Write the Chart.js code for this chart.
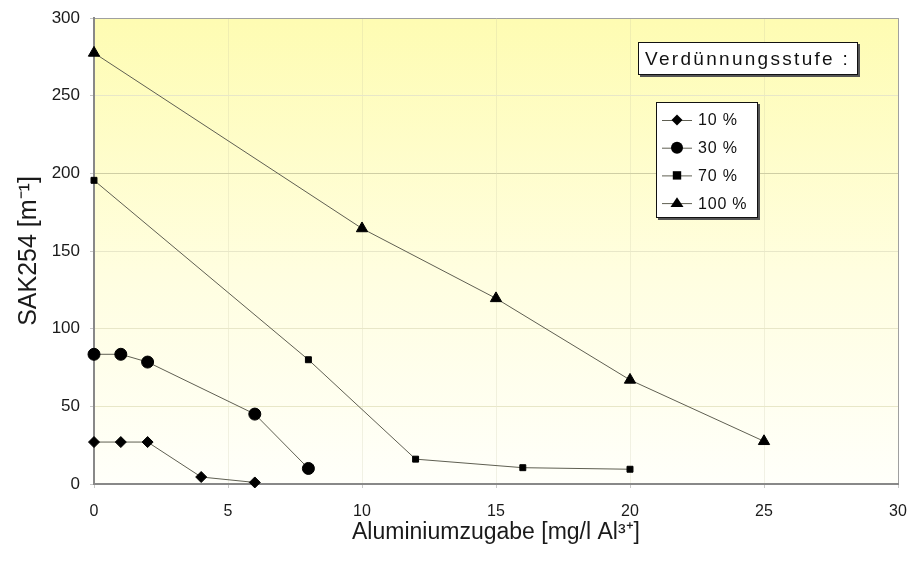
<!DOCTYPE html>
<html>
<head>
<meta charset="utf-8">
<script src="https://cdn.jsdelivr.net/npm/chart.js@4/dist/chart.umd.min.js"></script>
<style>
  html, body { margin: 0; padding: 0; background: #fff; }
  canvas { display: block; }
</style>
</head>
<body>
<canvas id="c" width="913" height="561"></canvas>
<script>
// Dilution levels and measured SAK254 values versus aluminium dose
const seriesLabels = ['10 %', '30 %', '70 %', '100 %'];

const dose10 = [0, 1, 2, 4, 6];
const sak10  = [27, 27, 27, 4.5, 1];

const dose30 = [0, 1, 2, 6, 8];
const sak30  = [83.5, 83.5, 78.5, 45, 10];

const dose70 = [0, 8, 12, 16, 20];
const sak70  = [195.5, 80, 16, 10.5, 9.5];

const dose100 = [0, 10, 15, 20, 25];
const sak100  = [277.5, 164.5, 119.5, 67, 27.5];

const xTickValues = [0, 5, 10, 15, 20, 25, 30];
const yTickValues = [0, 50, 100, 150, 200, 250, 300];

const legendTitle = 'Verdünnungsstufe :';
const xTitle = 'Aluminiumzugabe [mg/l Al³⁺]';
const yTitle = 'SAK254 [m⁻¹]';

const FONT = '"Liberation Sans", Arial, sans-serif';

function toPoints(xs, ys) {
  return xs.map((x, i) => ({ x: x, y: ys[i] }));
}

const markerStyles = [
  { pointStyle: 'rectRot', radius: 5.5 },
  { pointStyle: 'circle', radius: 6 },
  { pointStyle: 'rect', radius: 4.2 },
  { pointStyle: 'triangle', radius: 6.5 }
];

const seriesData = [
  toPoints(dose10, sak10),
  toPoints(dose30, sak30),
  toPoints(dose70, sak70),
  toPoints(dose100, sak100)
];

const datasets = seriesData.map((pts, i) => ({
  label: seriesLabels[i],
  data: pts,
  showLine: true,
  borderColor: '#5f5f52',
  borderWidth: 1,
  backgroundColor: '#000',
  pointBackgroundColor: '#000',
  pointBorderColor: '#000',
  pointBorderWidth: 1,
  pointStyle: markerStyles[i].pointStyle,
  pointRadius: markerStyles[i].radius,
  tension: 0,
  clip: false
}));

// Yellow-to-white fill behind the plot area
const plotBackground = {
  id: 'plotBackground',
  beforeDraw(chart) {
    const { ctx, chartArea: a } = chart;
    const g = ctx.createLinearGradient(0, a.top, 0, a.bottom);
    g.addColorStop(0, '#fefcb2');
    g.addColorStop(0.55, '#fffee0');
    g.addColorStop(1, '#fffffa');
    ctx.save();
    ctx.fillStyle = g;
    ctx.fillRect(a.left, a.top, a.right - a.left, a.bottom - a.top);
    ctx.restore();
  }
};

function drawMarker(ctx, style, r, x, y) {
  ctx.beginPath();
  if (style === 'circle') {
    ctx.arc(x, y, r, 0, Math.PI * 2);
  } else if (style === 'rect') {
    ctx.rect(x - r, y - r, 2 * r, 2 * r);
  } else if (style === 'rectRot') {
    ctx.moveTo(x, y - r); ctx.lineTo(x + r, y); ctx.lineTo(x, y + r); ctx.lineTo(x - r, y);
    ctx.closePath();
  } else if (style === 'triangle') {
    const h = r * 1.5;
    ctx.moveTo(x, y - h * 0.6); ctx.lineTo(x + r, y + h * 0.4); ctx.lineTo(x - r, y + h * 0.4);
    ctx.closePath();
  }
  ctx.fill();
}

function shadowBox(ctx, x, y, w, h) {
  ctx.fillStyle = '#555';
  ctx.fillRect(x + 2, y + 2, w, h);
  ctx.fillStyle = '#fff';
  ctx.fillRect(x, y, w, h);
  ctx.strokeStyle = '#111';
  ctx.lineWidth = 1;
  ctx.strokeRect(x + 0.5, y + 0.5, w - 1, h - 1);
}

// Title box and series key placed inside the plot
const keyBoxes = {
  id: 'keyBoxes',
  afterDraw(chart, args, opts) {
    const ctx = chart.ctx;
    ctx.save();
    // title box
    const t = opts.titleBox;
    shadowBox(ctx, t.x, t.y, t.w, t.h);
    ctx.fillStyle = '#111';
    ctx.font = '19px ' + FONT;
    ctx.textBaseline = 'middle';
    ctx.textAlign = 'left';
    ctx.letterSpacing = '2.3px';
    ctx.fillText(legendTitle, t.x + 7, t.y + t.h / 2 + 1);
    // series key
    const k = opts.keyBox;
    shadowBox(ctx, k.x, k.y, k.w, k.h);
    ctx.font = '16px ' + FONT;
    ctx.letterSpacing = '0.8px';
    chart.data.datasets.forEach((ds, i) => {
      const y = k.y + 18 + i * 27.7;
      ctx.strokeStyle = '#5f5f52';
      ctx.lineWidth = 1;
      ctx.beginPath();
      ctx.moveTo(k.x + 6, y + 0.5);
      ctx.lineTo(k.x + 36, y + 0.5);
      ctx.stroke();
      ctx.fillStyle = '#000';
      drawMarker(ctx, ds.pointStyle, ds.pointRadius, k.x + 21, y);
      ctx.fillStyle = '#111';
      ctx.fillText(ds.label, k.x + 42, y + 1);
    });
    ctx.restore();
  }
};

new Chart(document.getElementById('c'), {
  type: 'scatter',
  data: { datasets: datasets },
  plugins: [plotBackground, keyBoxes],
  options: {
    responsive: false,
    animation: false,
    layout: { padding: { top: 18, right: 15, left: 0, bottom: 0 } },
    plugins: {
      legend: { display: false },
      tooltip: { enabled: false },
      keyBoxes: {
        titleBox: { x: 638, y: 42, w: 220, h: 33 },
        keyBox: { x: 656, y: 102, w: 102, h: 116 }
      }
    },
    scales: {
      x: {
        type: 'linear',
        min: 0,
        max: 30,
        afterBuildTicks(scale) { scale.ticks = xTickValues.map(v => ({ value: v })); },
        afterFit(scale) {
          scale.height = 77;
          scale.paddingLeft = 0;
          scale.paddingRight = 0;
        },
        ticks: {
          font: { family: FONT, size: 16 },
          color: '#1a1a1a',
          padding: 14,
          maxRotation: 0
        },
        grid: {
          color: (c) => c.tick && c.tick.value === 30 ? '#a0a0a0' : 'rgba(190,190,160,0.22)',
          tickColor: '#c8c8c8',
          tickLength: 4,
          lineWidth: 1
        },
        border: { color: '#888', width: 2 },
        title: {
          display: true,
          text: xTitle,
          font: { family: FONT, size: 23 },
          color: '#1a1a1a',
          padding: { top: 0, bottom: 15 }
        }
      },
      y: {
        type: 'linear',
        min: 0,
        max: 300,
        afterBuildTicks(scale) { scale.ticks = yTickValues.map(v => ({ value: v })); },
        afterFit(scale) {
          scale.width = 94;
          scale.paddingTop = 0;
          scale.paddingBottom = 0;
        },
        ticks: {
          font: { family: FONT, size: 17 },
          color: '#1a1a1a',
          padding: 10
        },
        grid: {
          color: (c) => {
            if (!c.tick) return '#e8e7c8';
            if (c.tick.value === 300) return '#a0a0a0';
            if (c.tick.value === 200) return '#cfcea4';
            return '#e8e7c8';
          },
          tickColor: '#c8c8c8',
          tickLength: 4,
          lineWidth: 1
        },
        border: { color: '#888', width: 2 },
        title: {
          display: true,
          text: yTitle,
          font: { family: FONT, size: 25 },
          color: '#1a1a1a',
          padding: { top: 14, bottom: 0 }
        }
      }
    }
  }
});
</script>
</body>
</html>
